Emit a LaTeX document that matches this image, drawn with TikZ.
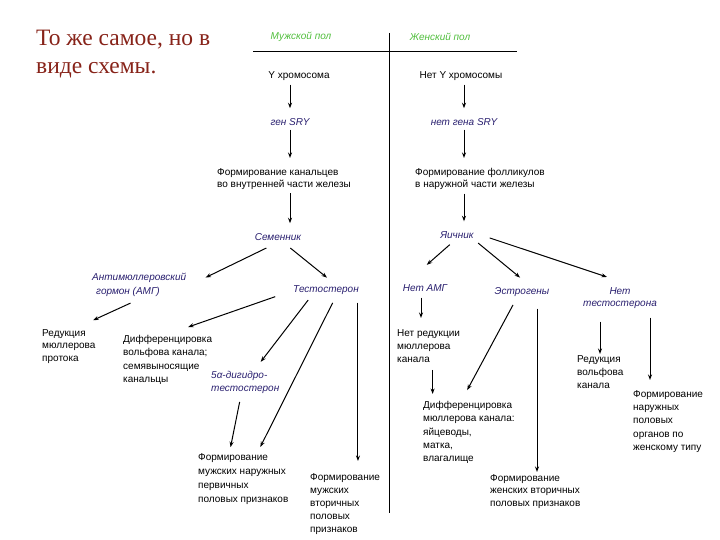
\documentclass[tikz,border=0pt]{standalone}
\usepackage{fontspec}
\setmainfont{Liberation Sans}
\newfontfamily\titlefont{Liberation Serif}
\usetikzlibrary{arrows.meta, positioning}
\definecolor{titlered}{RGB}{135,35,25}
\definecolor{labelblue}{RGB}{40,30,110}
\definecolor{headgreen}{RGB}{80,190,60}

\begin{document}
\begin{tikzpicture}[
					x=1pt, y=-1pt,
					txt/.style={inner sep=1pt, align=left, anchor=north west, font=\fontsize{10}{13.3}\selectfont},
					plain/.style={inner sep=1pt, font=\fontsize{10}{12}\selectfont},
					lbl/.style={inner sep=1pt, align=center, text=labelblue, font=\fontsize{10}{12}\selectfont\itshape},
					hdr/.style={inner sep=1pt, text=headgreen, font=\fontsize{10}{12}\selectfont\itshape},
					arrow/.style={-{Stealth[length=5.5pt, width=4pt]}, line width=1pt, shorten <=3pt, shorten >=9pt}
					]
					\useasboundingbox (0,0) rectangle (720,540);
					\node (title) [anchor=north west, inner sep=0pt, align=left, text=titlered, font=\titlefont\fontsize{23.5}{28}\selectfont] at (36,30) {То же самое, но в\\виде схемы.};
					
					\draw [line width=1pt] (253,52) -- (517,52);
					\draw [line width=1pt] (389,33) -- (389,513);
					
					\node (hmale) [hdr] at (301,37) {Мужской пол};
					\node (hfemale) [hdr] at (440,37) {Женский пол};
					
					\node (ychrom) [plain] at (299,76) {Y хромосома};
					\node (gensry) [lbl] at (290,122) {ген SRY};
					\node (kanal) [txt, font=\fontsize{10}{12}\selectfont] at (216,167) {Формирование канальцев\\во внутренней части железы};
					\node (semennik) [lbl] at (278,237) {Семенник};
					
					\node (noy) [plain] at (461,76) {Нет Y хромосомы};
					\node (nosry) [lbl] at (464,122) {нет гена SRY};
					\node (follik) [txt, font=\fontsize{10}{12}\selectfont] at (414,167) {Формирование фолликулов\\в наружной части железы};
					\node (yaichnik) [lbl] at (457,235) {Яичник};
					
					\node (amg) [lbl, align=left, anchor=north west, font=\fontsize{10}{14}\selectfont\itshape] at (91,272) {Антимюллеровский\\\hspace*{4pt}гормон (АМГ)};
					\node (testo) [lbl] at (326,290) {Тестостерон};
					\node (redmul) [txt, font=\fontsize{10}{12.5}\selectfont] at (41,328) {Редукция\\мюллерова\\протока};
					\node (difwolf) [txt] at (122,334) {Дифференцировка\\вольфова канала;\\семявыносящие\\канальцы};
					\node (dht) [lbl, align=left, anchor=north west, font=\fontsize{10}{13.3}\selectfont\itshape] at (210,370) {5α-дигидро-\\тестостерон};
					\node (extmale) [txt, font=\fontsize{10}{14}\selectfont] at (197,452) {Формирование\\мужских наружных\\первичных\\половых признаков};
					\node (secmale) [txt, font=\fontsize{10}{13}\selectfont] at (309,472) {Формирование\\мужских\\вторичных\\половых\\признаков};
					
					\node (noamg) [lbl] at (425,288) {Нет АМГ};
					\node (estro) [lbl] at (522,292) {Эстрогены};
					\node (notesto) [lbl] at (620,298) {Нет\\тестостерона};
					\node (noredmul) [txt] at (396,328) {Нет редукции\\мюллерова\\канала};
					\node (redwolf) [txt] at (576,354) {Редукция\\вольфова\\канала};
					\node (difmul) [txt] at (422,400) {Дифференцировка\\мюллерова канала:\\яйцеводы,\\матка,\\влагалище};
					\node (secfem) [txt, font=\fontsize{10}{12.5}\selectfont] at (489,473) {Формирование\\женских вторичных\\половых признаков};
					\node (extfem) [txt] at (632,389) {Формирование\\наружных\\половых\\органов по\\женскому типу};
					
					\draw [arrow] (ychrom.south -| gensry) -- (gensry.north);
					\draw [arrow] (gensry.south) -- (gensry.south |- kanal.north);
					\draw [arrow] (kanal.south -| gensry) -- (semennik.north -| gensry);
					\draw [arrow] (noy.south -| nosry) -- (nosry.north);
					\draw [arrow] (nosry.south) -- (nosry.south |- follik.north);
					\draw [arrow] (follik.south -| nosry) -- (yaichnik.north -| nosry);
					
					\draw [arrow] ([shift={(-9,5)}]semennik.south) -- ([shift={(10,9.5)}]amg.north east);
					\draw [arrow] ([shift={(10,4.4)}]semennik.south) -- ([shift={(8,-1)}]testo.north);
					\draw [arrow] ([shift={(-6,4)}]amg.south) -- ([shift={(16,-4)}]redmul.north);
					\draw [arrow] ([shift={(-14,0)}]testo.south west) -- ([shift={(12,-4)}]difwolf.north);
					\draw [arrow] ([shift={(-16,2)}]testo.south) -- ([shift={(10,-1)}]dht.north);
					\draw [arrow] ([shift={(8,4.5)}]testo.south) -- ([shift={(13,3)}]extmale.north);
					\draw [arrow] ([shift={(-5,4)}]dht.south) -- ([shift={(-14.5,4)}]extmale.north);
					\draw [arrow, shorten >=15pt] ([shift={(-2,4)}]testo.south east) -- ([shift={(-2,4)}]testo.south east |- secmale.north);
					
					\draw [arrow] ([shift={(-5,3)}]yaichnik.south) -- ([shift={(-5,-12.5)}]noamg.north);
					\draw [arrow] ([shift={(1,1.5)}]yaichnik.south east) -- ([shift={(5,-3)}]estro.north);
					\draw [arrow] ([shift={(12,2)}]yaichnik.east) -- ([shift={(-4.5,-6.5)}]notesto.north);
					\draw [arrow, shorten >=12pt] ([shift={(-4,2)}]noamg.south) -- ([shift={(-4,2)}]noamg.south |- noredmul.north);
					\draw [arrow] ([shift={(4,3)}]noredmul.south) -- ([shift={(4,3)}]noredmul.south |- difmul.north);
					\draw [arrow] ([shift={(-7.6,4.6)}]estro.south) -- ([shift={(-6,-2)}]difmul.north);
					\draw [arrow] ([shift={(15,8)}]estro.south) -- ([shift={(15,8)}]estro.south |- secfem.north);
					\draw [arrow] ([shift={(-20,9)}]notesto.south) -- ([shift={(-20,9)}]notesto.south |- redwolf.north);
					\draw [arrow, shorten >=14pt] ([shift={(30,5)}]notesto.south) -- ([shift={(30,5)}]notesto.south |- extfem.north);
				\end{tikzpicture}
\end{document}
